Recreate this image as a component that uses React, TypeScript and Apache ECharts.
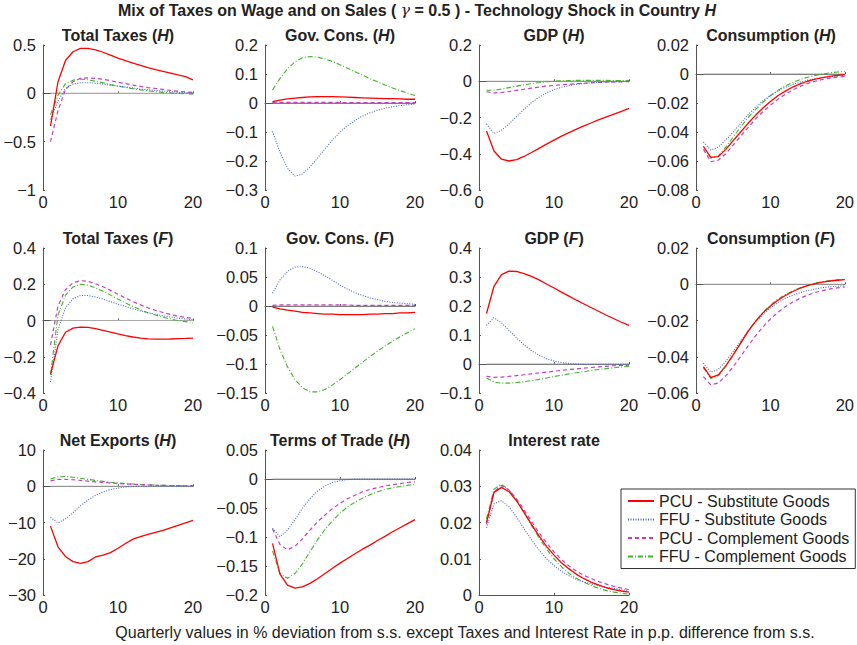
import React, { useEffect, useRef } from "react";
import * as echarts from "echarts";

// Impulse responses, quarters 1..20
const QUARTERS = Array.from({ length: 20 }, (_, i) => i + 1);

const SERIES_NAMES = [
  "PCU - Substitute Goods",
  "FFU - Substitute Goods",
  "PCU - Complement Goods",
  "FFU - Complement Goods",
];

// Total Taxes (H)
const taxesH_pcuSub = [-0.34, 0.12, 0.34, 0.43, 0.465, 0.465, 0.45, 0.425, 0.395, 0.365, 0.338, 0.312, 0.288, 0.266, 0.245, 0.226, 0.208, 0.19, 0.173, 0.14];
const taxesH_ffuSub = [-0.27, -0.08, 0.05, 0.095, 0.11, 0.11, 0.105, 0.095, 0.085, 0.075, 0.065, 0.055, 0.045, 0.037, 0.03, 0.023, 0.017, 0.012, 0.008, 0.005];
const taxesH_pcuComp = [-0.5, -0.18, 0.04, 0.12, 0.155, 0.16, 0.155, 0.145, 0.13, 0.115, 0.1, 0.085, 0.072, 0.06, 0.05, 0.04, 0.03, 0.022, 0.015, 0.01];
const taxesH_ffuComp = [-0.22, -0.02, 0.1, 0.135, 0.148, 0.14, 0.125, 0.11, 0.09, 0.075, 0.06, 0.048, 0.036, 0.026, 0.018, 0.01, 0.004, 0, -0.004, -0.008];

// Gov. Cons. (H)
const govH_pcuSub = [0.005, 0.01, 0.014, 0.017, 0.019, 0.021, 0.022, 0.022, 0.022, 0.021, 0.02, 0.019, 0.018, 0.017, 0.016, 0.015, 0.015, 0.014, 0.013, 0.013];
const govH_ffuSub = [-0.098, -0.17, -0.225, -0.252, -0.245, -0.22, -0.19, -0.158, -0.128, -0.1, -0.078, -0.06, -0.045, -0.034, -0.025, -0.018, -0.013, -0.009, -0.006, -0.004];
const govH_pcuComp = [0.002, 0.002, 0.002, 0.002, 0.002, 0.002, 0.002, 0.002, 0.002, 0.002, 0.001, 0.001, 0.001, 0.001, 0.001, 0.001, 0.001, 0.001, 0.001, 0.001];
const govH_ffuComp = [0.045, 0.085, 0.118, 0.142, 0.156, 0.16, 0.158, 0.152, 0.143, 0.132, 0.12, 0.108, 0.096, 0.084, 0.073, 0.062, 0.052, 0.043, 0.034, 0.026];

// GDP (H)
const gdpH_pcuSub = [-0.275, -0.385, -0.43, -0.44, -0.432, -0.415, -0.393, -0.37, -0.347, -0.325, -0.303, -0.283, -0.264, -0.246, -0.229, -0.212, -0.196, -0.181, -0.166, -0.15];
const gdpH_ffuSub = [-0.235, -0.288, -0.27, -0.235, -0.195, -0.155, -0.118, -0.088, -0.064, -0.046, -0.033, -0.024, -0.017, -0.012, -0.008, -0.006, -0.004, -0.003, -0.002, -0.001];
const gdpH_pcuComp = [-0.058, -0.064, -0.062, -0.057, -0.05, -0.044, -0.038, -0.032, -0.027, -0.023, -0.019, -0.016, -0.013, -0.011, -0.009, -0.007, -0.005, -0.004, -0.003, -0.002];
const gdpH_ffuComp = [-0.05, -0.05, -0.043, -0.035, -0.027, -0.02, -0.013, -0.008, -0.003, 0, 0.002, 0.004, 0.005, 0.005, 0.005, 0.005, 0.005, 0.004, 0.004, 0.004];

// Consumption (H)
const consH_pcuSub = [-0.05, -0.0575, -0.057, -0.052, -0.046, -0.04, -0.034, -0.0285, -0.0235, -0.019, -0.015, -0.0118, -0.009, -0.0068, -0.005, -0.0036, -0.0025, -0.0016, -0.001, -0.0005];
const consH_ffuSub = [-0.047, -0.0525, -0.0505, -0.0455, -0.04, -0.034, -0.028, -0.023, -0.0185, -0.0148, -0.0117, -0.0092, -0.0072, -0.0056, -0.0043, -0.0033, -0.0025, -0.0018, -0.0013, -0.001];
const consH_pcuComp = [-0.052, -0.0605, -0.0595, -0.055, -0.049, -0.043, -0.037, -0.031, -0.026, -0.0215, -0.0175, -0.014, -0.011, -0.0085, -0.0065, -0.005, -0.0038, -0.0029, -0.0022, -0.0017];
const consH_ffuComp = [-0.05, -0.058, -0.0565, -0.0505, -0.0435, -0.0365, -0.03, -0.0245, -0.0195, -0.015, -0.0113, -0.0082, -0.0058, -0.0038, -0.0022, -0.001, 0, 0.0008, 0.0014, 0.0018];

// Total Taxes (F)
const taxesF_pcuSub = [-0.295, -0.14, -0.065, -0.042, -0.036, -0.038, -0.045, -0.054, -0.064, -0.074, -0.083, -0.091, -0.097, -0.101, -0.103, -0.103, -0.102, -0.1, -0.099, -0.097];
const taxesF_ffuSub = [-0.34, -0.05, 0.07, 0.12, 0.138, 0.138, 0.13, 0.118, 0.104, 0.09, 0.077, 0.065, 0.053, 0.043, 0.034, 0.026, 0.019, 0.013, 0.008, 0.005];
const taxesF_pcuComp = [-0.135, 0.08, 0.17, 0.208, 0.22, 0.216, 0.203, 0.186, 0.166, 0.145, 0.124, 0.104, 0.086, 0.07, 0.056, 0.044, 0.033, 0.024, 0.017, 0.011];
const taxesF_ffuComp = [-0.3, 0.03, 0.14, 0.185, 0.2, 0.195, 0.18, 0.162, 0.14, 0.118, 0.097, 0.077, 0.059, 0.043, 0.03, 0.018, 0.008, 0, -0.006, -0.012];

// Gov. Cons. (F)
const govF_pcuSub = [-0.002, -0.005, -0.007, -0.009, -0.011, -0.012, -0.013, -0.014, -0.014, -0.015, -0.015, -0.015, -0.015, -0.014, -0.014, -0.013, -0.013, -0.012, -0.012, -0.011];
const govF_ffuSub = [0.022, 0.045, 0.06, 0.067, 0.068, 0.065, 0.059, 0.052, 0.044, 0.036, 0.029, 0.023, 0.018, 0.014, 0.011, 0.008, 0.006, 0.005, 0.004, 0.003];
const govF_pcuComp = [0.001, 0.002, 0.002, 0.002, 0.002, 0.002, 0.002, 0.002, 0.002, 0.002, 0.002, 0.001, 0.001, 0.001, 0.001, 0.001, 0.001, 0.001, 0.001, 0.001];
const govF_ffuComp = [-0.035, -0.075, -0.105, -0.127, -0.141, -0.148, -0.148, -0.144, -0.136, -0.127, -0.117, -0.107, -0.097, -0.087, -0.078, -0.069, -0.061, -0.053, -0.046, -0.039];

// GDP (F)
const gdpF_pcuSub = [0.174, 0.268, 0.308, 0.32, 0.319, 0.312, 0.302, 0.29, 0.276, 0.262, 0.248, 0.234, 0.22, 0.207, 0.194, 0.181, 0.168, 0.156, 0.144, 0.133];
const gdpF_ffuSub = [0.133, 0.16, 0.142, 0.116, 0.09, 0.066, 0.046, 0.03, 0.018, 0.01, 0.005, 0.002, 0, -0.001, -0.001, -0.001, -0.001, -0.001, -0.001, -0.001];
const gdpF_pcuComp = [-0.043, -0.046, -0.045, -0.043, -0.04, -0.037, -0.034, -0.031, -0.028, -0.025, -0.022, -0.019, -0.017, -0.014, -0.012, -0.01, -0.008, -0.006, -0.005, -0.004];
const gdpF_ffuComp = [-0.048, -0.062, -0.066, -0.066, -0.064, -0.061, -0.057, -0.053, -0.048, -0.043, -0.039, -0.034, -0.03, -0.026, -0.022, -0.019, -0.016, -0.013, -0.01, -0.008];

// Consumption (F)
const consF_pcuSub = [-0.0455, -0.0515, -0.05, -0.045, -0.039, -0.0325, -0.026, -0.0205, -0.0158, -0.012, -0.0088, -0.0062, -0.004, -0.0022, -0.0008, 0.0003, 0.0012, 0.0018, 0.0022, 0.0025];
const consF_ffuSub = [-0.0435, -0.0485, -0.047, -0.0425, -0.037, -0.0312, -0.0257, -0.0208, -0.0166, -0.0131, -0.0102, -0.0079, -0.006, -0.0046, -0.0035, -0.0026, -0.0019, -0.0014, -0.0011, -0.0009];
const consF_pcuComp = [-0.051, -0.0555, -0.0545, -0.0505, -0.0455, -0.0398, -0.034, -0.0285, -0.0235, -0.0192, -0.0155, -0.0124, -0.0098, -0.0077, -0.006, -0.0046, -0.0035, -0.0026, -0.002, -0.0015];
const consF_ffuComp = [-0.046, -0.052, -0.0505, -0.0452, -0.039, -0.0325, -0.026, -0.0203, -0.0155, -0.0115, -0.0083, -0.0057, -0.0036, -0.0019, -0.0005, 0.0006, 0.0014, 0.002, 0.0024, 0.0027];

// Net Exports (H)
const nxH_pcuSub = [-11, -16.7, -19.4, -20.8, -21.3, -20.8, -19.5, -19.0, -18.3, -17.1, -15.8, -14.6, -13.9, -13.3, -12.7, -12.2, -11.5, -10.8, -10.1, -9.4];
const nxH_ffuSub = [-8.6, -10.1, -9.0, -7.3, -5.4, -3.8, -2.5, -1.6, -0.9, -0.5, -0.2, -0.05, 0, 0, 0, 0, 0, 0, 0, 0];
const nxH_pcuComp = [1.5, 1.9, 1.9, 1.8, 1.6, 1.4, 1.2, 1.05, 0.9, 0.75, 0.63, 0.52, 0.43, 0.36, 0.3, 0.25, 0.2, 0.16, 0.13, 0.1];
const nxH_ffuComp = [2.0, 2.6, 2.7, 2.5, 2.2, 1.9, 1.6, 1.35, 1.1, 0.9, 0.75, 0.6, 0.5, 0.4, 0.32, 0.26, 0.2, 0.16, 0.13, 0.1];

// Terms of Trade (H)
const totH_pcuSub = [-0.111, -0.164, -0.183, -0.188, -0.186, -0.18, -0.172, -0.163, -0.154, -0.145, -0.137, -0.129, -0.121, -0.114, -0.106, -0.099, -0.091, -0.084, -0.077, -0.07];
const totH_ffuSub = [-0.085, -0.0995, -0.088, -0.07, -0.05, -0.034, -0.021, -0.012, -0.006, -0.003, -0.001, 0, 0, 0, 0, 0, 0, 0, 0, 0];
const totH_pcuComp = [-0.086, -0.113, -0.122, -0.116, -0.103, -0.088, -0.074, -0.062, -0.051, -0.042, -0.034, -0.028, -0.022, -0.018, -0.015, -0.012, -0.01, -0.008, -0.006, -0.005];
const totH_ffuComp = [-0.124, -0.163, -0.171, -0.163, -0.146, -0.125, -0.105, -0.087, -0.072, -0.059, -0.048, -0.04, -0.033, -0.027, -0.022, -0.018, -0.015, -0.013, -0.011, -0.009];

// Interest rate
const rate_pcuSub = [0.02, 0.0283, 0.0297, 0.0285, 0.026, 0.0228, 0.0195, 0.0163, 0.0134, 0.011, 0.0089, 0.0072, 0.0057, 0.0045, 0.0035, 0.0027, 0.002, 0.0015, 0.0011, 0.0008];
const rate_ffuSub = [0.0185, 0.0252, 0.026, 0.0243, 0.0215, 0.0183, 0.0152, 0.0124, 0.01, 0.0081, 0.0065, 0.0053, 0.0043, 0.0036, 0.003, 0.0025, 0.0021, 0.0018, 0.0015, 0.0012];
const rate_pcuComp = [0.0195, 0.0285, 0.0302, 0.029, 0.0265, 0.0235, 0.0203, 0.0172, 0.0144, 0.0119, 0.0098, 0.008, 0.0066, 0.0054, 0.0045, 0.0037, 0.003, 0.0024, 0.0019, 0.0015];
const rate_ffuComp = [0.021, 0.0292, 0.0305, 0.029, 0.0262, 0.0228, 0.0192, 0.0158, 0.0127, 0.01, 0.0078, 0.006, 0.0046, 0.0035, 0.0026, 0.0018, 0.0012, 0.0008, 0.0005, 0.0002];

const PANELS = [
  { title: "Total Taxes ({i|H})", min: -1, max: 0.5, step: 0.5, lines: [taxesH_pcuSub, taxesH_ffuSub, taxesH_pcuComp, taxesH_ffuComp] },
  { title: "Gov. Cons. ({i|H})", min: -0.3, max: 0.2, step: 0.1, lines: [govH_pcuSub, govH_ffuSub, govH_pcuComp, govH_ffuComp] },
  { title: "GDP ({i|H})", min: -0.6, max: 0.2, step: 0.2, lines: [gdpH_pcuSub, gdpH_ffuSub, gdpH_pcuComp, gdpH_ffuComp] },
  { title: "Consumption ({i|H})", min: -0.08, max: 0.02, step: 0.02, lines: [consH_pcuSub, consH_ffuSub, consH_pcuComp, consH_ffuComp] },
  { title: "Total Taxes ({i|F})", min: -0.4, max: 0.4, step: 0.2, lines: [taxesF_pcuSub, taxesF_ffuSub, taxesF_pcuComp, taxesF_ffuComp] },
  { title: "Gov. Cons. ({i|F})", min: -0.15, max: 0.1, step: 0.05, lines: [govF_pcuSub, govF_ffuSub, govF_pcuComp, govF_ffuComp] },
  { title: "GDP ({i|F})", min: -0.1, max: 0.4, step: 0.1, lines: [gdpF_pcuSub, gdpF_ffuSub, gdpF_pcuComp, gdpF_ffuComp] },
  { title: "Consumption ({i|F})", min: -0.06, max: 0.02, step: 0.02, lines: [consF_pcuSub, consF_ffuSub, consF_pcuComp, consF_ffuComp] },
  { title: "Net Exports ({i|H})", min: -30, max: 10, step: 10, lines: [nxH_pcuSub, nxH_ffuSub, nxH_pcuComp, nxH_ffuComp] },
  { title: "Terms of Trade ({i|H})", min: -0.2, max: 0.05, step: 0.05, lines: [totH_pcuSub, totH_ffuSub, totH_pcuComp, totH_ffuComp] },
  { title: "Interest rate", min: 0, max: 0.04, step: 0.01, lines: [rate_pcuSub, rate_ffuSub, rate_pcuComp, rate_ffuComp], noZero: true },
];

const LINE_STYLES = [
  { color: "#ff0000", width: 1.3, type: "solid" },
  { color: "#4a66c4", width: 1.1, type: [1, 1.5] },
  { color: "#c43fc0", width: 1.2, type: [4, 3] },
  { color: "#3fb52a", width: 1.1, type: [5, 2, 1, 2] },
];

const FONT = "'Liberation Sans', Arial, Helvetica, sans-serif";
const COL_LEFT = [43, 265, 479, 696];
const ROW_TOP = [45, 248, 450];
const PLOT_W = 150;
const PLOT_H = 145;

const fmt = (v: number) => String(+v.toFixed(4)).replace("-", "\u2212");

export default function App() {
  const ref = useRef<HTMLDivElement>(null);

  useEffect(() => {
    document.body.style.margin = "0";
    const chart = echarts.init(ref.current!, null, { renderer: "svg" });

    const grid: any[] = [];
    const xAxis: any[] = [];
    const yAxis: any[] = [];
    const series: any[] = [];
    const graphic: any[] = [];

    PANELS.forEach((p, k) => {
      const left = COL_LEFT[k % 4];
      const top = ROW_TOP[Math.floor(k / 4)];
      grid.push({ left, top, width: PLOT_W, height: PLOT_H });
      xAxis.push({
        gridIndex: k,
        type: "value",
        min: 0,
        max: 20,
        interval: 10,
        axisLine: { lineStyle: { color: "#555", width: 1 } },
        axisTick: { inside: true, length: 2, lineStyle: { color: "#555" } },
        splitLine: { show: false },
        axisLabel: { fontFamily: FONT, fontSize: 16.5, color: "#222", margin: 3 },
      });
      yAxis.push({
        gridIndex: k,
        type: "value",
        min: p.min,
        max: p.max,
        interval: p.step,
        axisLine: { show: true, lineStyle: { color: "#555", width: 1 } },
        axisTick: { show: true, inside: true, length: 2, lineStyle: { color: "#555" } },
        splitLine: { show: false },
        axisLabel: { fontFamily: FONT, fontSize: 16.5, color: "#222", margin: 7, formatter: fmt },
      });
      if (!p.noZero) {
        series.push({
          type: "line",
          xAxisIndex: k,
          yAxisIndex: k,
          data: [[1, 0], [20, 0]],
          symbol: "none",
          silent: true,
          lineStyle: { color: "#a8a8a8", width: 1.2 },
          z: 1,
        });
      }
      p.lines.forEach((vals, s) => {
        const st = LINE_STYLES[s];
        series.push({
          type: "line",
          name: SERIES_NAMES[s],
          xAxisIndex: k,
          yAxisIndex: k,
          data: vals.map((v, i) => [QUARTERS[i], v]),
          symbol: "none",
          color: st.color,
          lineStyle: { color: st.color, width: st.width, type: st.type },
          z: 2 + (3 - s),
        });
      });
      graphic.push({
        type: "text",
        x: left + PLOT_W / 2,
        y: top - 10,
        style: {
          text: p.title,
          fontFamily: FONT,
          fontSize: 16,
          fontWeight: "bold",
          fill: "#222",
          align: "center",
          verticalAlign: "middle",
          rich: {
            i: { fontFamily: FONT, fontSize: 16, fontWeight: "bold", fontStyle: "italic", fill: "#222" },
          },
        },
      });
    });

    graphic.push({
      type: "text",
      x: 417,
      y: 10,
      style: {
        text: "Mix of Taxes on Wage and on Sales ( {g|\u03b3} = 0.5 ) - Technology Shock in Country {i|H}",
        fontFamily: FONT,
        fontSize: 16,
        fontWeight: "bold",
        fill: "#222",
        align: "center",
        verticalAlign: "middle",
        rich: {
          g: { fontFamily: "'DejaVu Serif', serif", fontSize: 15.5, fontStyle: "italic", fontWeight: "normal", fill: "#222" },
          i: { fontFamily: FONT, fontSize: 16, fontWeight: "bold", fontStyle: "italic", fill: "#222" },
        },
      },
    });
    graphic.push({
      type: "text",
      x: 465,
      y: 632,
      style: {
        text: "Quarterly values in % deviation from s.s. except Taxes and Interest Rate in p.p. difference from s.s.",
        fontFamily: FONT,
        fontSize: 16,
        fill: "#222",
        align: "center",
        verticalAlign: "middle",
      },
    });

    chart.setOption({
      animation: false,
      backgroundColor: "#ffffff",
      grid,
      xAxis,
      yAxis,
      series,
      graphic,
      legend: {
        data: SERIES_NAMES,
        orient: "vertical",
        left: 621,
        top: 489,
        padding: [4, 6, 4, 6],
        itemGap: 2.5,
        itemWidth: 26,
        itemHeight: 14,
        borderColor: "#333",
        borderWidth: 1,
        backgroundColor: "#fff",
        selectedMode: false,
        itemStyle: { opacity: 0, borderWidth: 0 },
        textStyle: { fontFamily: FONT, fontSize: 16, color: "#222" },
      },
    });

    return () => chart.dispose();
  }, []);

  return <div ref={ref} style={{ width: 857, height: 645 }} />;
}
